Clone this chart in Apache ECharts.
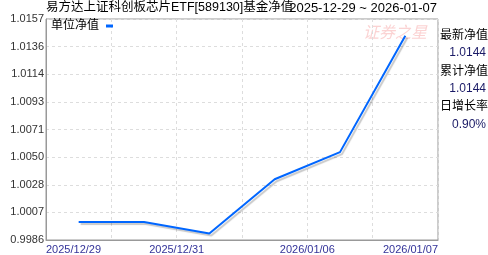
<!DOCTYPE html>
<html>
<head>
<meta charset="utf-8">
<style>html,body{margin:0;padding:0;background:#fff;}#c{width:488px;height:255px;}</style>
<script src="https://cdn.jsdelivr.net/npm/echarts@6/dist/echarts.min.js"></script>
</head>
<body>
<div id="c"></div>
<script>
var categories = ['2025/12/29', '2025/12/30', '2025/12/31', '2026/01/05', '2026/01/06', '2026/01/07'];
var navValues = [1.0000, 1.0000, 0.9991, 1.0033, 1.0054, 1.0144];
var xTickLabels = ['2025/12/29', '', '2025/12/31', '', '2026/01/06', '', '2026/01/07'];
var yTickLabels = ['0.9986', '1.0007', '1.0028', '1.0050', '1.0071', '1.0093', '1.0114', '1.0136', '1.0157'];
var yMin = 0.9986, yMax = 1.0157;
var sideLabels = ['最新净值', '1.0144', '累计净值', '1.0144', '日增长率', '0.90%'];
var titleMain = '易方达上证科创板芯片ETF[589130]基金净值';
var titleRange = '2025-12-29 ~ 2026-01-07';
var seriesName = '单位净值';
var watermark = '证券之星';

var FONT = 'Arial, "Liberation Sans", "Noto Sans CJK SC", sans-serif';
var chart = echarts.init(document.getElementById('c'), null, {renderer: 'canvas'});
var yInterval = (yMax - yMin) / (yTickLabels.length - 1);

var graphics = [];
var sideY = [36, 53, 71.5, 89, 107, 125];
sideLabels.forEach(function (t, i) {
  var isVal = i % 2 === 1;
  graphics.push({
    type: 'text',
    x: isVal ? 486 : 440,
    y: sideY[i],
    style: {
      text: t,
      fill: isVal ? '#1a1a66' : '#000',
      font: '12px ' + FONT,
      align: isVal ? 'right' : 'left',
      verticalAlign: 'middle'
    }
  });
});
graphics.push({
  type: 'text', x: 46, y: 8,
  style: {text: titleMain, fill: '#000', font: '12.5px ' + FONT, align: 'left', verticalAlign: 'middle'}
});
graphics.push({
  type: 'text', x: 437, y: 8,
  style: {text: titleRange, fill: '#000', font: '13px ' + FONT, align: 'right', verticalAlign: 'middle'}
});
graphics.push({
  type: 'text', x: 363, y: 32, z: -1,
  style: {text: watermark, fill: '#fbd3d3', font: 'italic 16px "Noto Sans CJK SC", sans-serif', verticalAlign: 'middle', letterSpacing: 2}
});

chart.setOption({
  animation: false,
  backgroundColor: '#fff',
  legend: {
    data: [seriesName], left: 51, top: 20, padding: 0, align: 'right',
    icon: 'rect', itemWidth: 7, itemHeight: 3, itemGap: 0,
    textStyle: {fontSize: 12, color: '#000', fontFamily: FONT, padding: [0, 2, 0, 0]}
  },
  grid: {left: 46, right: 50, top: 19, bottom: 14, show: true, borderColor: '#999', borderWidth: 1, containLabel: false},
  xAxis: [
    {type: 'category', data: categories, boundaryGap: true, show: false},
    {type: 'value', min: 0, max: xTickLabels.length - 1, interval: 1, position: 'bottom',
     axisLine: {show: true, lineStyle: {color: '#999'}},
     axisTick: {show: false},
     splitLine: {show: true, lineStyle: {color: '#ddd', type: [3, 3]}},
     axisLabel: {
       margin: 4, fontSize: 11, color: '#333399', fontFamily: FONT,
       alignMinLabel: 'left', alignMaxLabel: 'right', showMinLabel: true, showMaxLabel: true,
       formatter: function (v) { return xTickLabels[Math.round(v)] || ''; }
     }}
  ],
  yAxis: {
    type: 'value', min: yMin, max: yMax, interval: yInterval,
    axisLine: {show: true, lineStyle: {color: '#999'}},
    axisTick: {show: false},
    splitLine: {show: true, lineStyle: {color: '#ddd', type: [3, 3]}},
    axisLabel: {
      margin: 2, fontSize: 11, color: '#333', fontFamily: FONT, showMinLabel: true, showMaxLabel: true,
      formatter: function (v) { return yTickLabels[Math.round((v - yMin) / yInterval)]; }
    }
  },
  graphic: graphics,
  series: [{
    name: seriesName, type: 'line', xAxisIndex: 0, data: navValues,
    symbol: 'none', color: '#0066ff',
    lineStyle: {width: 2, color: '#0066ff', shadowColor: 'rgba(0,0,0,0.22)', shadowBlur: 1, shadowOffsetX: 2, shadowOffsetY: 2}
  }]
});
</script>
</body>
</html>
